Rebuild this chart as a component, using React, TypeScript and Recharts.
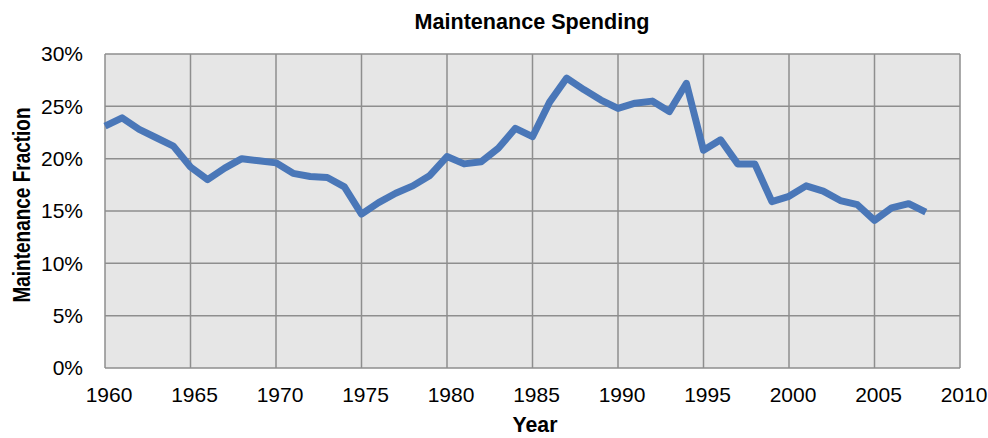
import { LineChart, Line, XAxis, YAxis, CartesianGrid } from 'recharts'

const years = [
  1960, 1961, 1962, 1963, 1964, 1965, 1966, 1967, 1968, 1969,
  1970, 1971, 1972, 1973, 1974, 1975, 1976, 1977, 1978, 1979,
  1980, 1981, 1982, 1983, 1984, 1985, 1986, 1987, 1988, 1989,
  1990, 1991, 1992, 1993, 1994, 1995, 1996, 1997, 1998, 1999,
  2000, 2001, 2002, 2003, 2004, 2005, 2006, 2007, 2008,
]

// maintenance share of spending, percent
const maintenance = [
  23.1, 23.9, 22.8, 22.0, 21.2, 19.2, 18.0, 19.1, 20.0, 19.8,
  19.6, 18.6, 18.3, 18.2, 17.3, 14.7, 15.8, 16.7, 17.4, 18.4,
  20.2, 19.5, 19.7, 21.0, 22.9, 22.1, 25.4, 27.7, 26.6, 25.6,
  24.8, 25.3, 25.5, 24.5, 27.2, 20.8, 21.8, 19.5, 19.5, 15.9,
  16.4, 17.4, 16.9, 16.0, 15.6, 14.1, 15.3, 15.7, 14.9,
]

const yearTicks = [1960, 1965, 1970, 1975, 1980, 1985, 1990, 1995, 2000, 2005, 2010]
const pctTicks = [0, 5, 10, 15, 20, 25, 30]

const data = years.map((year, i) => ({ year, value: maintenance[i] }))

// no condensed face installed, so bold text is squeezed with textLength
const bold = "'Liberation Sans', Arial, sans-serif"
const regular = "'Liberation Sans', Arial, sans-serif"

export default function App() {
  return (
    <div style={{ position: 'absolute', left: 0, top: 0, width: 988, height: 438, background: '#fff' }}>
      <svg width={988} height={40} style={{ position: 'absolute', left: 0, top: 0 }}>
        <text
          x={532}
          y={29}
          textAnchor="middle"
          fontFamily={bold}
          fontWeight="bold"
          fontSize={22}
          textLength={235}
          lengthAdjust="spacingAndGlyphs"
          fill="#000"
        >
          Maintenance Spending
        </text>
      </svg>
      <LineChart
        width={988}
        height={438}
        data={data}
        margin={{ top: 54, right: 28, bottom: 0, left: 0 }}
        style={{ position: 'absolute', left: 0, top: 0 }}
      >
        <CartesianGrid fill="#e6e6e6" stroke="#8e8e8e" strokeWidth={1.5} />
        <XAxis
          dataKey="year"
          type="number"
          domain={[1960, 2010]}
          ticks={yearTicks}
          height={70}
          axisLine={false}
          tickLine={false}
          tickMargin={13}
          tick={{ fill: '#000', fontSize: 21, fontFamily: regular, dx: 4 }}
          label={{
            content: () => (
              <text
                x={535}
                y={432}
                textAnchor="middle"
                fontFamily={bold}
                fontWeight="bold"
                fontSize={22}
                textLength={45}
                lengthAdjust="spacingAndGlyphs"
                fill="#000"
              >
                Year
              </text>
            ),
          }}
        />
        <YAxis
          domain={[0, 30]}
          ticks={pctTicks}
          width={105}
          axisLine={false}
          tickLine={false}
          tickMargin={16}
          tickFormatter={(v: number) => `${v}%`}
          tick={{ fill: '#000', fontSize: 21, fontFamily: regular }}
          label={{
            content: () => (
              <text
                x={30}
                y={205}
                transform="rotate(-90 30 205)"
                textAnchor="middle"
                fontFamily={bold}
                fontWeight="bold"
                fontSize={23}
                textLength={195}
                lengthAdjust="spacingAndGlyphs"
                fill="#000"
              >
                Maintenance Fraction
              </text>
            ),
          }}
        />
        <Line
          type="linear"
          dataKey="value"
          stroke="#4a77b8"
          strokeWidth={7}
          strokeLinejoin="round"
          dot={false}
          isAnimationActive={false}
        />
      </LineChart>
    </div>
  )
}
